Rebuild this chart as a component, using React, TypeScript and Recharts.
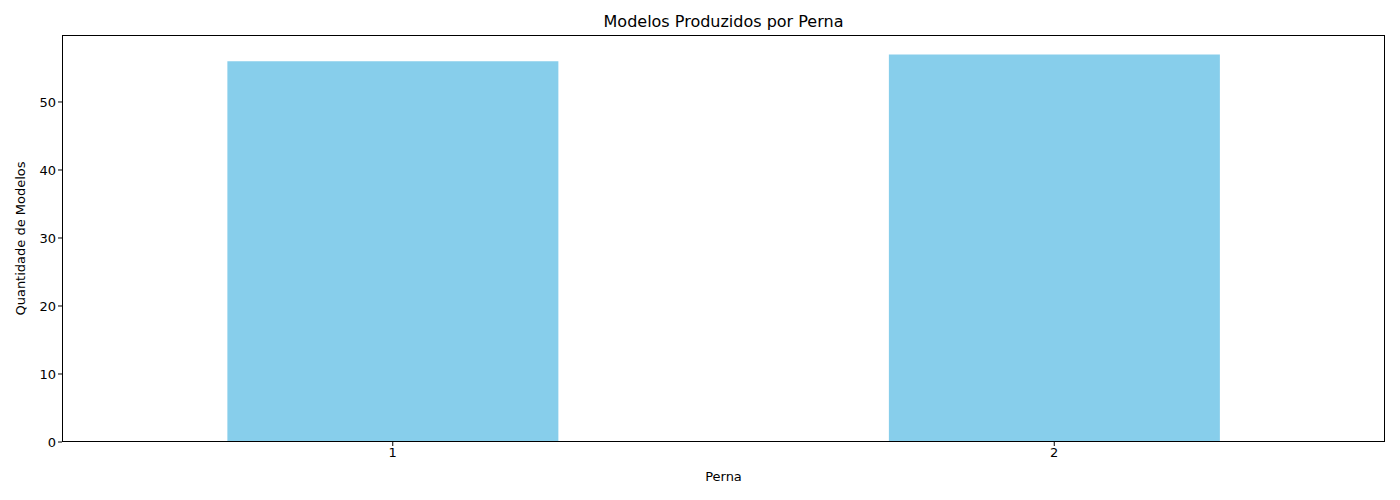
import React from "react";
import { BarChart, Bar, XAxis, YAxis } from "recharts";

const pernas = ["1", "2"];
const quantidades = [56, 57];
const yTicks = [0, 10, 20, 30, 40, 50];

const data = pernas.map((perna, i) => ({ perna, quantidade: quantidades[i] }));

const FONT = "'DejaVu Sans', sans-serif";
const W = 1400;
const H = 500;
const PLOT = { left: 62, top: 35, right: 1385, bottom: 442 };

export default function App() {
  return (
    <div
      style={{
        position: "absolute",
        left: 0,
        top: 0,
        width: W,
        height: H,
        background: "#fff",
        fontFamily: FONT,
      }}
    >
      <div
        style={{
          position: "absolute",
          left: PLOT.left,
          width: PLOT.right - PLOT.left,
          top: 12,
          textAlign: "center",
          fontSize: 16,
          color: "#000",
        }}
      >
        Modelos Produzidos por Perna
      </div>
      <BarChart
        width={W}
        height={H}
        data={data}
        barCategoryGap="25%"
        margin={{ top: PLOT.top, right: W - PLOT.right, bottom: 0, left: 0 }}
      >
        <XAxis
          dataKey="perna"
          height={H - PLOT.bottom}
          tick={{ fontSize: 13, fill: "#000", fontFamily: FONT }}
          tickLine={{ stroke: "#000" }}
          tickSize={4}
          axisLine={false}
          label={{
            value: "Perna",
            position: "insideBottom",
            offset: 19,
            fontSize: 13,
            fill: "#000",
            fontFamily: FONT,
          }}
        />
        <YAxis
          width={PLOT.left}
          domain={[0, 59.85]}
          ticks={yTicks}
          tick={{ fontSize: 13, fill: "#000", fontFamily: FONT }}
          tickLine={{ stroke: "#000" }}
          tickSize={4}
          axisLine={false}
          label={{
            value: "Quantidade de Modelos",
            angle: -90,
            position: "insideLeft",
            offset: 20,
            style: { textAnchor: "middle" },
            fontSize: 13,
            fill: "#000",
            fontFamily: FONT,
          }}
        />
        <Bar dataKey="quantidade" fill="#87CEEB" isAnimationActive={false} />
      </BarChart>
      <div
        style={{
          position: "absolute",
          left: PLOT.left,
          top: PLOT.top,
          width: PLOT.right - PLOT.left,
          height: PLOT.bottom - PLOT.top,
          border: "1px solid #000",
          boxSizing: "border-box",
          pointerEvents: "none",
        }}
      />
    </div>
  );
}
